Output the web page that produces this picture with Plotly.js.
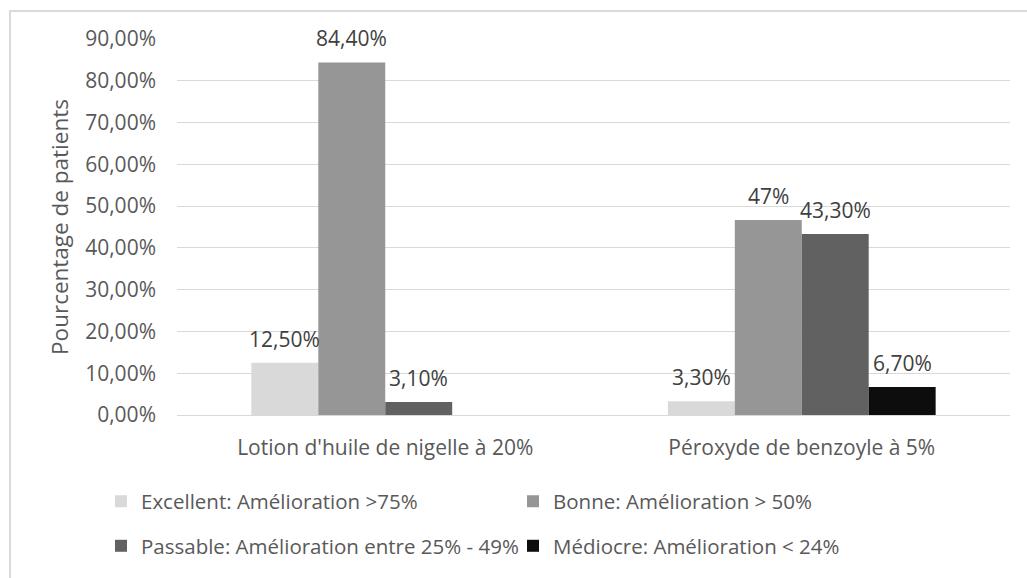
<!DOCTYPE html>
<html>
<head>
<meta charset="utf-8">
<script src="https://cdn.plot.ly/plotly-3.0.1.min.js"></script>
<style>
  html, body { margin: 0; padding: 0; background: #ffffff; overflow: hidden; }
  #wrap { position: relative; width: 1027px; height: 578px; }
  #chart { position: absolute; left: 0; top: 0; width: 1027px; height: 578px; }
  #frame { position: absolute; left: 9px; top: 10px; width: 1040px; height: 600px;
           border: 2px solid #dadada; box-sizing: border-box; pointer-events: none; }
</style>
</head>
<body>
<div id="wrap">
  <div id="chart"></div>
  <div id="frame"></div>
</div>
<script>
// ---- data ----
var categories = ["Lotion d'huile de nigelle à 20%", "Péroxyde de benzoyle à 5%"];
var seriesNames = [
  "Excellent: Amélioration >75%",
  "Bonne: Amélioration > 50%",
  "Passable: Amélioration entre 25% - 49%",
  "Médiocre: Amélioration < 24%"
];
var excellent = [12.5, 3.3];
var bonne     = [84.4, 46.7];
var passable  = [3.1, 43.3];
var mediocre  = [null, 6.7];
var excellentLabels = ["12,50%", "3,30%"];
var bonneLabels     = ["84,40%", "47%"];
var passableLabels  = ["3,10%", "43,30%"];
var mediocreLabels  = ["", "6,70%"];
var yTickValues = [0, 10, 20, 30, 40, 50, 60, 70, 80, 90];
var yTickLabels = ["0,00%", "10,00%", "20,00%", "30,00%", "40,00%", "50,00%", "60,00%", "70,00%", "80,00%", "90,00%"];
var yTitle = "Pourcentage de patients";

// ---- styles ----
var colors = ["#d9d9d9", "#969696", "#616161", "#0d0d0d"];
var FONT = "Open Sans, Noto Sans, sans-serif";
var TXT = "#595959";
var FS = 21;
var LFS = 20.5;

var allValues = [excellent, bonne, passable, mediocre];
var allLabels = [excellentLabels, bonneLabels, passableLabels, mediocreLabels];
var legendIds = ["legend", "legend", "legend2", "legend2"];

var traces = allValues.map(function (vals, i) {
  return {
    type: "bar",
    name: seriesNames[i],
    x: categories,
    y: vals,
    marker: { color: colors[i], line: { width: 0 } },
    legend: legendIds[i],
    hoverinfo: "skip"
  };
});

// data labels as annotations placed above each bar
var barPx = 67; // bar width in px (for horizontal offset of the labels)
var annotations = [];
allValues.forEach(function (vals, i) {
  vals.forEach(function (v, j) {
    if (v === null || allLabels[i][j] === "") return;
    annotations.push({
      x: categories[j], y: v, xref: "x", yref: "y",
      text: allLabels[i][j], showarrow: false,
      xanchor: "center", yanchor: "middle",
      xshift: (i - 1.5) * barPx, yshift: 24,
      font: { family: FONT, size: FS, color: "#404040" }
    });
  });
});

var layout = {
  width: 1027, height: 578,
  margin: { l: 177, r: 17, t: 39, b: 160 },
  paper_bgcolor: "rgba(0,0,0,0)",
  plot_bgcolor: "rgba(0,0,0,0)",
  barmode: "group",
  bargap: 0.357,
  bargroupgap: 0,
  font: { family: FONT, size: FS, color: TXT },
  xaxis: {
    type: "category",
    showgrid: false, showline: false, zeroline: false,
    ticks: "", ticklabelstandoff: 18,
    tickfont: { family: FONT, size: FS, color: TXT }
  },
  yaxis: {
    range: [0, 90],
    tickvals: yTickValues, ticktext: yTickLabels,
    showgrid: true, gridcolor: "#d9d9d9", gridwidth: 1,
    zeroline: true, zerolinecolor: "#d9d9d9", zerolinewidth: 1,
    showline: false, ticks: "", ticklabelstandoff: 20,
    tickfont: { family: FONT, size: FS, color: TXT },
    title: { text: yTitle, font: { family: FONT, size: 22.5, color: TXT }, standoff: 10 },
    automargin: false
  },
  showlegend: true,
  legend: {
    orientation: "h", x: (101 - 177) / 833, xanchor: "left",
    y: (418 - 505) / 379, yanchor: "middle",
    entrywidth: 367, entrywidthmode: "pixels",
    font: { family: FONT, size: LFS, color: TXT },
    bgcolor: "rgba(0,0,0,0)", traceorder: "normal"
  },
  legend2: {
    orientation: "h", x: (101 - 177) / 833, xanchor: "left",
    y: (418 - 550) / 379, yanchor: "middle",
    entrywidth: 367, entrywidthmode: "pixels",
    font: { family: FONT, size: LFS, color: TXT },
    bgcolor: "rgba(0,0,0,0)", traceorder: "normal"
  },
  annotations: annotations
};

Plotly.newPlot("chart", traces, layout, { displayModeBar: false, staticPlot: true });
</script>
</body>
</html>
